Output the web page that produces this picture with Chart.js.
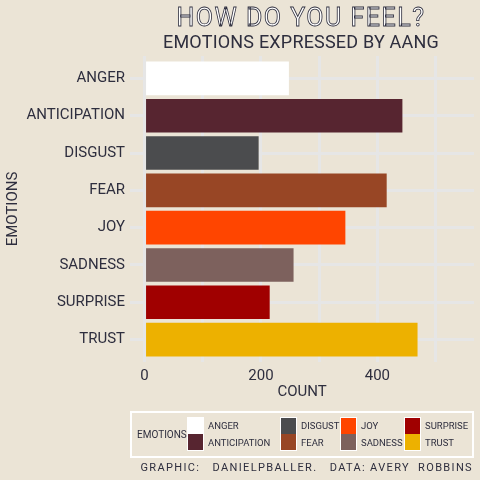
<!DOCTYPE html>
<html><head><meta charset="utf-8">
<script src="https://cdn.jsdelivr.net/npm/chart.js@4.4.1/dist/chart.umd.min.js"></script>
<style>
html,body{margin:0;padding:0;background:#EBE4D6;}
#wrap{position:relative;width:480px;height:480px;overflow:hidden;font-family:Roboto,sans-serif;color:#2e2e3e;}
canvas{position:absolute;left:0;top:0;}
.txt{position:absolute;white-space:pre;}
#title{left:101px;width:400px;top:5px;text-align:center;font-size:25px;line-height:25px;letter-spacing:1.5px;color:#fff;-webkit-text-stroke:0.8px #2e2e3e;}
#subtitle{left:101px;width:400px;top:33px;text-align:center;font-size:18px;line-height:18px;letter-spacing:0.2px;}
#legend{position:absolute;left:130px;top:411px;width:340px;height:43px;border:2px solid #fff;}
#legtitle{position:absolute;left:5px;top:0;height:43px;line-height:43px;font-size:10px;}
#leggrid{position:absolute;left:55px;top:4px;display:grid;grid-auto-flow:column;grid-template-rows:17px 17px;grid-template-columns:93px 60px 64px 60px;}
.cell{display:flex;align-items:center;font-size:9.5px;white-space:nowrap;}
.key{flex:0 0 auto;width:15px;height:16px;border:1px solid #fff;border-width:1px 1px 0 1px;margin-right:4px;box-sizing:content-box;}
#caption{right:7px;top:462px;font-size:11px;line-height:11px;letter-spacing:1.35px;}
</style></head>
<body>
<div id="wrap">
<canvas id="c" width="480" height="480"></canvas>
<div id="title" class="txt">HOW DO YOU FEEL?</div>
<div id="subtitle" class="txt">EMOTIONS EXPRESSED BY AANG</div>
<div id="legend"><div id="legtitle">EMOTIONS</div><div id="leggrid"></div></div>
<div id="caption" class="txt">GRAPHIC:   DANIELPBALLER.   DATA: AVERY  ROBBINS</div>
</div>
<script>
const categories = ['Anger','Anticipation','Disgust','Fear','Joy','Sadness','Surprise','Trust'];
const counts = [248, 443, 196, 416, 345, 256, 215, 469];
const barColors = ['#FFFFFF','#572530','#4B4C4E','#984625','#FF4500','#7D615D','#A00000','#EDB100'];
const xGridValues = [0, 100, 200, 300, 400, 500];
const xTickLabels = [0, 200, 400];

const textColor = '#2e2e3e';
const gridColor = '#E6E6E6';
const fam = 'Roboto, sans-serif';

new Chart(document.getElementById('c'), {
  type: 'bar',
  data: {
    datasets: [{
      label: 'Emotions',
      data: categories.map((c, i) => ({x: counts[i], y: i})),
      backgroundColor: barColors,
      borderWidth: 0,
      categoryPercentage: 1,
      barPercentage: 0.9
    }]
  },
  options: {
    responsive: false,
    animation: false,
    indexAxis: 'y',
    layout: {padding: {top: 56, right: 6, bottom: 79, left: 0}},
    plugins: {legend: {display: false}, tooltip: {enabled: false}},
    scales: {
      x: {
        type: 'linear', min: -25, max: 566, offset: false,
        grid: {color: gridColor, lineWidth: 3, drawTicks: false, offset: false},
        border: {display: false},
        ticks: {autoSkip: false, padding: 5, color: textColor, maxRotation: 0,
          font: {family: fam, size: 15},
          callback: v => xTickLabels.includes(v) ? String(v) : ''},
        afterBuildTicks: s => { s.ticks = xGridValues.map(v => ({value: v})); },
        title: {display: true, text: 'COUNT', color: textColor, font: {family: fam, size: 15}, padding: {top: 0, bottom: 0}},
        afterFit: s => { s.height = 39; s.paddingLeft = 0; s.paddingRight = 0; }
      },
      y: {
        type: 'linear', reverse: true, min: -0.6, max: 7.6, offset: false,
        grid: {color: gridColor, lineWidth: 3, drawTicks: false, offset: false},
        border: {display: false},
        ticks: {autoSkip: false, padding: 5, color: textColor,
          font: {family: fam, size: 15},
          callback: v => categories[v] ? categories[v].toUpperCase() : ''},
        afterBuildTicks: s => { s.ticks = categories.map((c, i) => ({value: i})); },
        title: {display: true, text: 'EMOTIONS', color: textColor, font: {family: fam, size: 15}, padding: {top: 4, bottom: 0}},
        afterFit: s => { s.width = 130; s.paddingTop = 0; s.paddingBottom = 0; }
      }
    }
  }
});

const grid = document.getElementById('leggrid');
categories.forEach((c, i) => {
  const cell = document.createElement('div');
  cell.className = 'cell';
  const k = document.createElement('div');
  k.className = 'key';
  if (i % 2 === 1) k.style.borderWidth = '0 1px 1px 1px';
  k.style.background = barColors[i];
  const t = document.createElement('span');
  t.textContent = c.toUpperCase();
  cell.appendChild(k); cell.appendChild(t);
  grid.appendChild(cell);
});
</script>
</body></html>
